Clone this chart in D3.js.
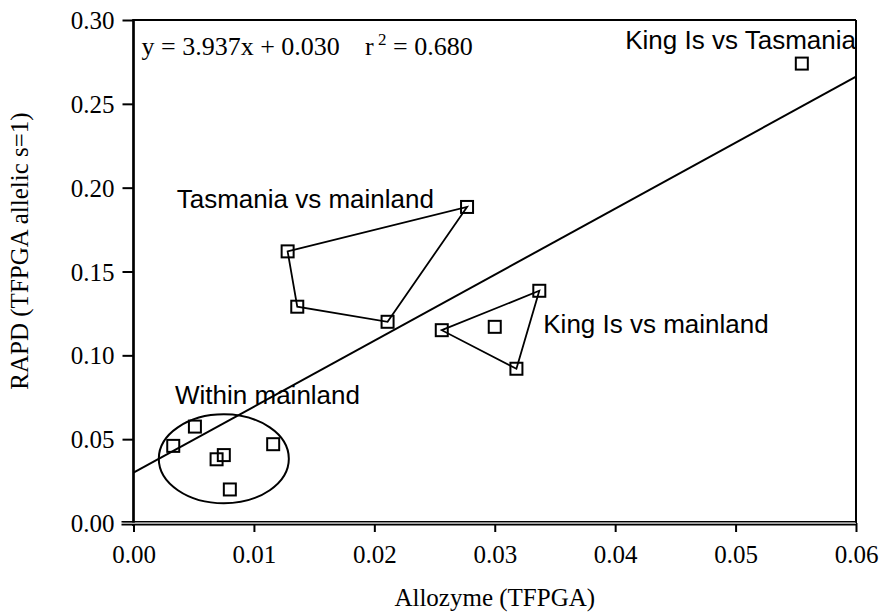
<!DOCTYPE html>
<html>
<head>
<meta charset="utf-8">
<script src="https://cdn.jsdelivr.net/npm/d3@7"></script>
<style>
  html, body { margin: 0; padding: 0; background: #fff; }
  svg { display: block; }
</style>
</head>
<body>
<svg id="chart" width="882" height="615"></svg>
<script>
// Pairwise genetic distances: allozyme (x) vs RAPD (y)
const kingVsTasmania = [[0.0555, 0.274]];
// hull order for the connecting polygon
const tasmaniaVsMainland = [[0.0128, 0.162], [0.0277, 0.1885], [0.0211, 0.120], [0.0136, 0.129]];
const kingVsMainland = [[0.0256, 0.115], [0.0337, 0.1385], [0.0318, 0.092]];
const kingVsMainlandInner = [[0.0300, 0.117]];
const withinMainland = [[0.0033, 0.046], [0.0051, 0.0575], [0.0069, 0.038], [0.0075, 0.0405], [0.0080, 0.020], [0.0116, 0.047]];

// regression fit
const slope = 3.937, intercept = 0.030, rSquared = 0.680;
const fitRange = [0, 0.06];

// ellipse enclosing the within-mainland group: centre, radii (data units)
const withinEllipse = { cx: 0.0075, cy: 0.0383, rx: 0.0054, ry: 0.0265 };

const xTicks = [0, 0.01, 0.02, 0.03, 0.04, 0.05, 0.06];
const yTicks = [0, 0.05, 0.10, 0.15, 0.20, 0.25, 0.30];

const groupLabels = [
  { text: "King Is vs Tasmania", x: 0.0600, y: 0.2825, anchor: "end" },
  { text: "Tasmania vs mainland", x: 0.00359, y: 0.1877, anchor: "start" },
  { text: "King Is vs mainland", x: 0.03403, y: 0.1131, anchor: "start" },
  { text: "Within mainland", x: 0.00345, y: 0.0708, anchor: "start" }
];

const SERIF = "'Liberation Serif', 'Times New Roman', serif";
const SANS = "'Liberation Sans', Arial, sans-serif";

const svg = d3.select("#chart");
const plotLeft = 133.5, plotRight = 856, plotTop = 20, plotBottom = 523;

const x = d3.scaleLinear().domain([0, 0.06]).range([plotLeft, plotRight]);
const y = d3.scaleLinear().domain([0, 0.30]).range([plotBottom, plotTop]);

// axes (ticks only; the frame is drawn separately)
const xAxis = svg.append("g")
  .attr("transform", `translate(0,${plotBottom})`)
  .call(d3.axisBottom(x).tickValues(xTicks).tickSize(9).tickPadding(10).tickFormat(d => d.toFixed(2)));
const yAxis = svg.append("g")
  .attr("transform", `translate(${plotLeft},0)`)
  .call(d3.axisLeft(y).tickValues(yTicks).tickSize(11).tickPadding(8).tickFormat(d => d.toFixed(2)));

[xAxis, yAxis].forEach(g => {
  g.attr("font-family", SERIF).attr("font-size", 25);
  g.select(".domain").remove();
  g.selectAll(".tick line").attr("stroke", "#000").attr("stroke-width", 2);
  g.selectAll(".tick text")
    .attr("font-family", SERIF)
    .attr("font-size", 25)
    .attr("fill", "#000");
});
xAxis.selectAll(".tick text").attr("dy", "0.85em");
yAxis.selectAll(".tick text").attr("dy", "0.34em");

// frame
const frame = svg.append("g").attr("stroke", "#000").attr("fill", "none");
frame.append("line").attr("x1", plotLeft).attr("x2", plotRight).attr("y1", plotTop).attr("y2", plotTop).attr("stroke-width", 2);
frame.append("line").attr("x1", plotRight).attr("x2", plotRight).attr("y1", plotTop).attr("y2", plotBottom + 2).attr("stroke-width", 2);
frame.append("line").attr("x1", plotLeft).attr("x2", plotLeft).attr("y1", plotTop - 1).attr("y2", plotBottom + 3).attr("stroke-width", 2.7);
// double bottom rule
frame.append("line").attr("x1", plotLeft - 12).attr("x2", plotRight).attr("y1", plotBottom - 1.2).attr("y2", plotBottom - 1.2).attr("stroke-width", 1.5);
frame.append("line").attr("x1", plotLeft - 12).attr("x2", plotRight).attr("y1", plotBottom + 1.8).attr("y2", plotBottom + 1.8).attr("stroke-width", 1.5);
frame.append("line").attr("x1", plotLeft - 12).attr("x2", plotRight).attr("y1", plotBottom + 0.3).attr("y2", plotBottom + 0.3).attr("stroke", "#aaa").attr("stroke-width", 1.2);

// regression line
svg.append("line")
  .attr("x1", x(fitRange[0])).attr("y1", y(intercept + slope * fitRange[0]))
  .attr("x2", x(fitRange[1])).attr("y2", y(intercept + slope * fitRange[1]))
  .attr("stroke", "#000").attr("stroke-width", 2);

// group outlines
const poly = d3.line().x(d => x(d[0])).y(d => y(d[1])).curve(d3.curveLinearClosed);
[tasmaniaVsMainland, kingVsMainland].forEach(pts => {
  svg.append("path").attr("d", poly(pts))
    .attr("fill", "none").attr("stroke", "#000").attr("stroke-width", 1.8);
});
svg.append("ellipse")
  .attr("cx", x(withinEllipse.cx)).attr("cy", y(withinEllipse.cy))
  .attr("rx", x(withinEllipse.rx) - x(0)).attr("ry", y(0) - y(withinEllipse.ry))
  .attr("fill", "none").attr("stroke", "#000").attr("stroke-width", 2);

// markers
const allPoints = [].concat(kingVsTasmania, tasmaniaVsMainland, kingVsMainland, kingVsMainlandInner, withinMainland);
const side = 12;
svg.append("g").selectAll("rect").data(allPoints).join("rect")
  .attr("x", d => x(d[0]) - side / 2)
  .attr("y", d => y(d[1]) - side / 2)
  .attr("width", side).attr("height", side)
  .attr("fill", "none").attr("stroke", "#000").attr("stroke-width", 2);

// group labels
svg.append("g").selectAll("text").data(groupLabels).join("text")
  .attr("font-family", SANS)
  .attr("x", d => x(d.x)).attr("y", d => y(d.y))
  .attr("text-anchor", d => d.anchor)
  .attr("font-size", 26)
  .attr("fill", "#000")
  .text(d => d.text);

// fit equation
const eq = svg.append("text").attr("font-family", SERIF).attr("font-size", 26).attr("fill", "#000").attr("y", 55);
eq.append("tspan").attr("x", 141.5).text(`y = ${slope.toFixed(3)}x + ${intercept.toFixed(3)}`);
eq.append("tspan").attr("x", 365).text("r");
eq.append("tspan").attr("x", 378).attr("dy", -10).attr("font-size", 17).text("2");
eq.append("tspan").attr("x", 393).attr("dy", 10).text(`= ${rSquared.toFixed(3)}`);

// axis titles
svg.append("text").attr("font-family", SERIF).attr("font-size", 25).attr("fill", "#000")
  .attr("x", (plotLeft + plotRight) / 2).attr("y", 606).attr("text-anchor", "middle")
  .text("Allozyme (TFPGA)");
svg.append("text").attr("font-family", SERIF).attr("font-size", 25).attr("fill", "#000")
  .attr("transform", "translate(28,251) rotate(-90)").attr("text-anchor", "middle")
  .text("RAPD (TFPGA allelic s=1)");
</script>
</body>
</html>
